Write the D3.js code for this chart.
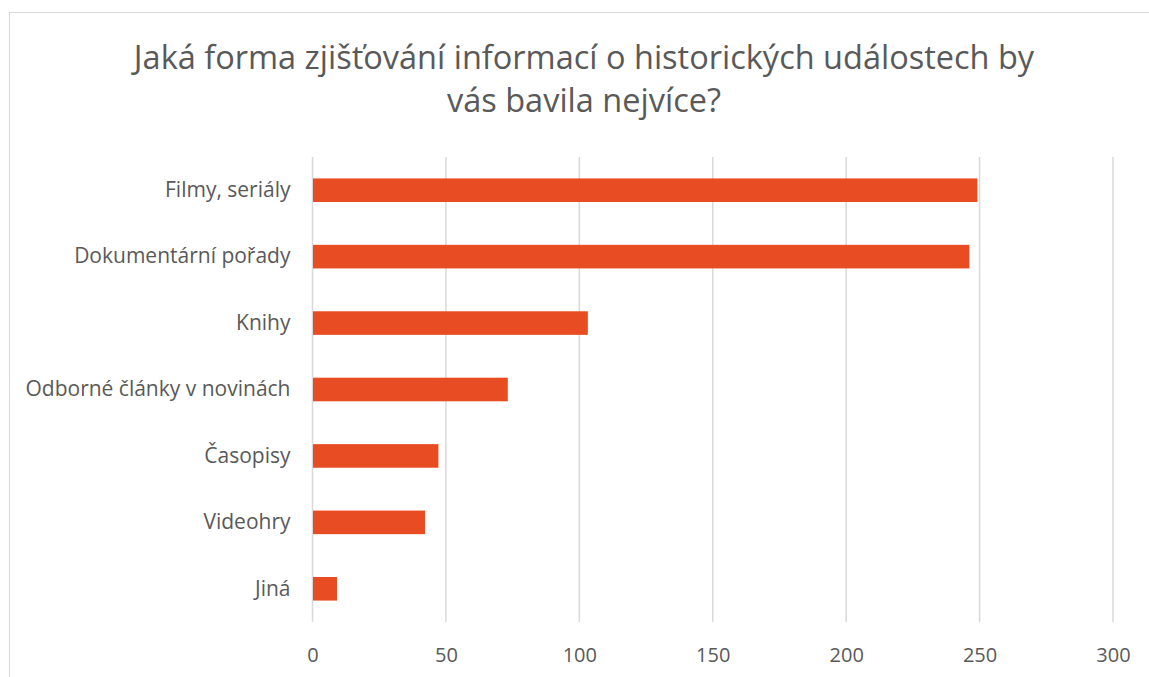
<!DOCTYPE html>
<html>
<head>
<meta charset="utf-8">
<script src="https://cdn.jsdelivr.net/npm/d3@7"></script>
<style>
  body { margin: 0; background: #fff; }
  text { font-family: "Open Sans", sans-serif; fill: #595959; }
</style>
</head>
<body>
<script>
// data
let categories = ["Filmy, seriály", "Dokumentární pořady", "Knihy", "Odborné články v novinách", "Časopisy", "Videohry", "Jiná"];
let counts = [249, 246, 103, 73, 47, 42, 9];
let tickValues = [0, 50, 100, 150, 200, 250, 300];
let titleLines = ["Jaká forma zjišťování informací o historických událostech by", "vás bavila nejvíce?"];

let width = 1149, height = 677;

let svg = d3.select("body").append("svg")
	.attr("width", width)
	.attr("height", height);

// chart frame (runs off the right and bottom edge like the screenshot)
svg.append("rect")
	.attr("x", 9.5).attr("y", 12.5)
	.attr("width", width + 10).attr("height", height + 10)
	.attr("fill", "#fff")
	.attr("stroke", "#d9d9d9");

let margin = { top: 157, right: 36, bottom: 55, left: 312.5 };
let plotW = 1113 - margin.left;
let plotH = 622 - margin.top;

let x = d3.scaleLinear().domain([0, 300]).range([0, plotW]);
let y = d3.scaleBand().domain(categories).range([0, plotH]).paddingInner(0.645).paddingOuter(0.3225);

let g = svg.append("g").attr("transform", `translate(${margin.left}, ${margin.top})`);

// vertical gridlines
g.selectAll(".grid")
	.data(tickValues)
	.enter().append("line")
	.attr("x1", d => x(d)).attr("x2", d => x(d))
	.attr("y1", 0).attr("y2", plotH)
	.attr("stroke", "#d9d9d9")
	.attr("stroke-width", 1.5);

// bars
g.selectAll(".bar")
	.data(counts)
	.enter().append("rect")
	.attr("x", x(0) + 0.5)
	.attr("y", (d, i) => y(categories[i]))
	.attr("width", d => x(d) - x(0))
	.attr("height", y.bandwidth())
	.attr("fill", "#E84C22");

// category labels
let yAxis = d3.axisLeft(y).tickSize(0).tickPadding(22);
let ya = g.append("g").call(yAxis);
ya.select(".domain").remove();
ya.selectAll("text").attr("font-size", 21).attr("font-family", "'Open Sans', sans-serif").style("fill", "#595959");

// value axis
let xAxis = d3.axisBottom(x).tickValues(tickValues).tickSize(0).tickPadding(26);
let xa = g.append("g").attr("transform", `translate(0, ${plotH})`).call(xAxis);
xa.select(".domain").remove();
xa.selectAll("text").attr("font-size", 20).attr("font-family", "'Open Sans', sans-serif").style("fill", "#595959");

// title
svg.append("g").selectAll("text")
	.data(titleLines)
	.enter().append("text")
	.attr("x", 584)
	.attr("y", (d, i) => 69 + i * 43)
	.attr("text-anchor", "middle")
	.attr("font-size", 32.5)
	.text(d => d);
</script>
</body>
</html>
